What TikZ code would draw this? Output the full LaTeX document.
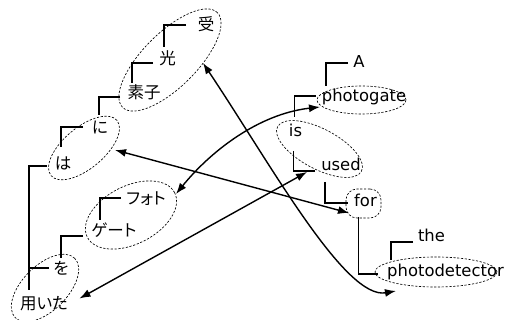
\documentclass[tikz,border=0pt]{standalone}
\usepackage{fontspec}
\setmainfont{DejaVu Sans}
\newfontfamily\jafont{Noto Sans CJK JP}[RawFeature=+palt]
\usetikzlibrary{shapes.geometric,arrows.meta,calc}
\begin{document}
\begin{tikzpicture}[x=1pt,y=-1pt,
  en/.style={inner sep=0pt, anchor=base, font=\fontsize{16.4}{18}\selectfont},
  ja/.style={inner sep=0pt, font=\jafont\fontsize{16.5}{18}\selectfont, text height=13.2pt, text depth=3.3pt},
  grp/.style={draw, dash pattern=on 2.2pt off 1.6pt, line width=0.65pt, ellipse, inner sep=0pt},
  br/.style={line width=1.8pt},
  lnk/.style={line width=1.4pt, {Latex[length=11pt,width=8pt]}-{Latex[length=11pt,width=8pt]}},
]
\useasboundingbox (0,0) rectangle (507,320);

% Japanese words
\node[ja] (jyu) at (206,25.5) {受};
\node[ja] (kou) at (167.5,60) {光};
\node[ja] (soshi) at (144,93.5) {素子};
\node[ja] (ni) at (100,128.5) {に};
\node[ja] (ha) at (63,165) {は};
\node[ja] (foto) at (146,200) {フォト};
\node[ja] (geto) at (114,232) {ゲート};
\node[ja] (wo) at (61,269.5) {を};
\node[ja] (mochi) at (44,304.5) {用いた};

% English words
\node[en] (A) at (359,68) {A};
\node[en] (pg) at (364,102) {photogate};
\node[en] (is) at (295.5,137) {is};
\node[en] (used) at (341,171) {used};
\node[en] (for) at (365.5,207) {for};
\node[en] (the) at (431.5,242) {the};
\node[en] (pd) at (445.5,277) {photodetector};

% dashed groups
\node[grp, minimum width=134pt, minimum height=54pt, rotate=45] (g1) at (170,60) {};
\node[grp, minimum width=86pt, minimum height=41pt, rotate=40] (g2) at (84,148) {};
\node[grp, minimum width=98pt, minimum height=58pt, rotate=27] (g3) at (131,215) {};
\node[grp, minimum width=84pt, minimum height=45pt, rotate=45] (g4) at (45,288) {};
\node[grp, minimum width=89pt, minimum height=28pt] (e1) at (361.5,100) {};
\node[grp, minimum width=95pt, minimum height=40pt, rotate=-28] (e2) at (319.5,149) {};
\node[grp, rectangle, rounded corners=11pt, minimum width=35pt, minimum height=29pt] (e3) at (363.5,203.5) {};
\node[grp, minimum width=122pt, minimum height=30pt] (e4) at (436,272) {};

% Japanese dependency brackets
\draw[br] ([shift={(-20,-0.5)}]jyu.center) -| ([shift={(-3.5,-13)}]kou.center);
\draw[br] ([shift={(-14.5,3)}]kou.center) -| ([shift={(-12,-10.5)}]soshi.center);
\draw[br] ([shift={(-24,3.5)}]soshi.center) -| ([shift={(-1,-13.5)}]ni.center);
\draw[br] ([shift={(-17,-1.5)}]ni.center) -| ([shift={(-2,-18)}]ha.center);
\draw[br] ([shift={(-16,1)}]ha.center) -| ([shift={(-15,-14.5)}]mochi.center);
\draw[br] ([shift={(-12,-1.5)}]wo.center) -| ([shift={(-15,-14.5)}]mochi.center);
\draw[br] ([shift={(-25,-2)}]foto.center) -| ([shift={(-14,-12)}]geto.center);
\draw[br] ([shift={(-31,4)}]geto.center) -| ([shift={(0,-11.5)}]wo.center);

% English dependency brackets
\draw[br] ([shift={(-11,-5)}]A.base) -| ([shift={(-38,-16)}]pg.base);
\draw[br] ([shift={(-48,-6)}]pg.base) -| ([shift={(-1,-20)}]is.base);
\draw[br] ([shift={(-2,14)}]is.base) |- ([shift={(-26,0)}]used.base);
\draw[br] ([shift={(-16,11)}]used.base) |- ([shift={(-18,-4)}]for.base);
\draw[br] ([shift={(-7,10)}]for.base) |- ([shift={(-67.5,-3)}]pd.base);
\draw[br] ([shift={(-18.5,0)}]the.base) -| ([shift={(-54.5,-17)}]pd.base);

% alignment links
\draw[lnk] ([shift={(33,3)}]g1.center) .. controls (270,163) and (345,300) .. ([shift={(-40,19)}]e4.center);
\draw[lnk] ([shift={(-41.5,7)}]e1.center) .. controls (258,114) and (210,152) .. ([shift={(45,-21)}]g3.center);
\draw[lnk] ([shift={(31,2)}]g2.center) -- ([shift={(-14.5,9.5)}]e3.center);
\draw[lnk] ([shift={(34.5,10.5)}]g4.center) -- ([shift={(-12.5,23)}]e2.center);
\end{tikzpicture}
\end{document}
